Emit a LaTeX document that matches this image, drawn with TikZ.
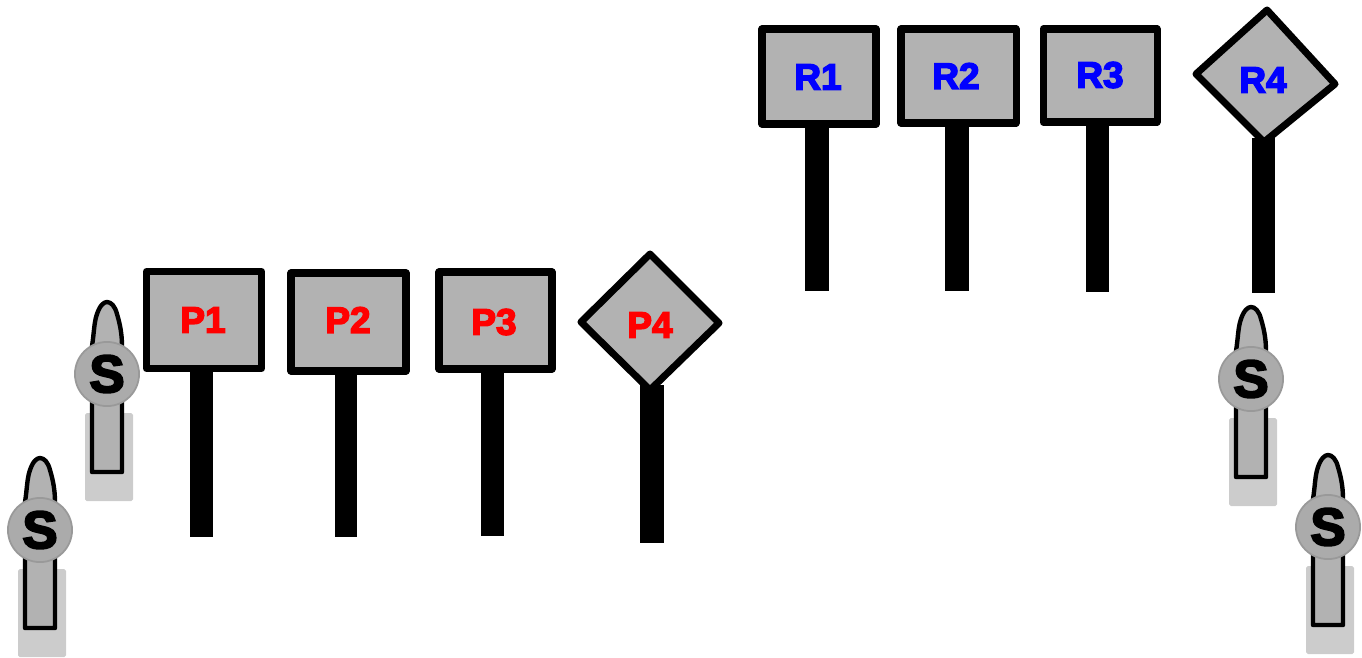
\documentclass[tikz,border=0pt]{standalone}
\usepackage{fontspec}
\setmainfont[BoldFeatures={FakeBold=4}]{Liberation Sans}
\usetikzlibrary{calc}
\definecolor{signgray}{HTML}{B2B2B2}
\definecolor{headgray}{HTML}{ABABAB}
\definecolor{headline}{HTML}{999999}
\definecolor{shadowgray}{HTML}{CCCCCC}
\definecolor{plabel}{HTML}{FF0000}
\definecolor{rlabel}{HTML}{0000FF}
\tikzset{
	signboard/.style={draw=black, fill=signgray, line width=4pt, line join=round},
	signpost/.style={fill=black},
	plate/.style={font=\fontsize{21}{24}\selectfont\bfseries},
	shadowrect/.style={fill=shadowgray, rounded corners=1pt},
	bodyline/.style={draw=black, fill=signgray, line width=2.5pt, line join=round},
	headdisc/.style={circle, draw=headline, fill=headgray, line width=1pt, inner sep=0pt, minimum size=36.5pt, font=\fontsize{30}{32}\selectfont\bfseries},
}
\def\sperson(#1,#2)#3{
	\begin{scope}[shift={(#1,#2)}]
		\fill[shadowrect] (-22, 39) rectangle (26, 127);
		\draw[bodyline] (-15, -28) .. controls (-13, -40) and (-13, -52) .. (-10, -60) .. controls (-7, -69) and (-3, -72) .. (0, -72) .. controls (4, -72) and (8, -68) .. (10, -60) .. controls (13, -50) and (15, -40) .. (15, -28) -- (15, 98) -- (-15, 98) -- cycle;
		\node[headdisc] (#3) at (0, 0) {S};
	\end{scope}
}

\begin{document}
\begin{tikzpicture}[x=0.02cm, y=-0.02cm]
	%%%%% START %%%%%
	\useasboundingbox (0, 0) rectangle (1362, 657);

	% posts
	\fill[signpost] (190, 365) rectangle (213, 537);
	\fill[signpost] (335, 367) rectangle (357, 537);
	\fill[signpost] (481, 365) rectangle (504, 536);
	\fill[signpost] (640, 385) rectangle (664, 543);
	\fill[signpost] (805, 120) rectangle (829, 291);
	\fill[signpost] (945, 120) rectangle (969, 291);
	\fill[signpost] (1086, 120) rectangle (1109, 292);
	\fill[signpost] (1252, 138) rectangle (1275, 293);

	% boards
	\draw[signboard] (146.5, 271.5) rectangle (261.5, 368.5);
	\draw[signboard] (291, 273) rectangle (406, 371);
	\draw[signboard] (439, 272) rectangle (552, 369);
	\draw[signboard] (650, 254) -- (719, 323) -- (650, 390) -- (581, 322) -- cycle;
	\draw[signboard] (762, 29) rectangle (876, 124);
	\draw[signboard] (901, 29) rectangle (1016, 123);
	\draw[signboard] (1043, 29) rectangle (1157, 122);
	\draw[signboard] (1267, 10) -- (1335, 84) -- (1264, 142) -- (1196, 74) -- cycle;

	% labels
	\node[plate, text=plabel] (p1) at (203, 320) {P1};
	\node[plate, text=plabel] (p2) at (348, 320) {P2};
	\node[plate, text=plabel] (p3) at (494, 322) {P3};
	\node[plate, text=plabel] (p4) at (650, 325) {P4};
	\node[plate, text=rlabel] (r1) at (818, 77) {R1};
	\node[plate, text=rlabel] (r2) at (956, 76) {R2};
	\node[plate, text=rlabel] (r3) at (1100, 75) {R3};
	\node[plate, text=rlabel] (r4) at (1263, 80) {R4};

	% people
	\sperson(107, 374){s1}
	\sperson(40, 530){s2}
	\sperson(1251, 379){s3}
	\sperson(1328, 527){s4}
	%%%%% END %%%%%
\end{tikzpicture}
\end{document}
